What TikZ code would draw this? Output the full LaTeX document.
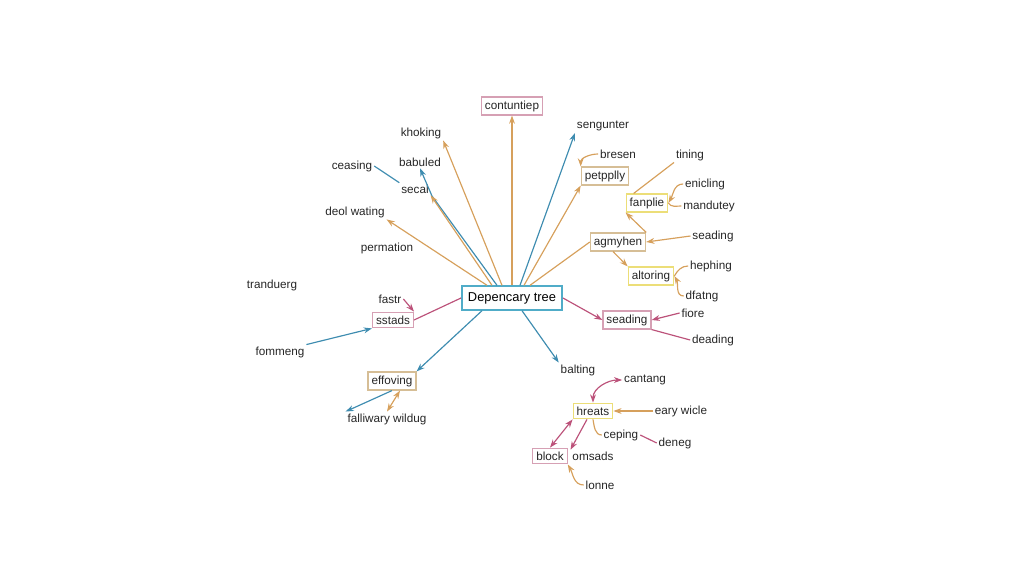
\documentclass[tikz,border=0pt]{standalone}
\usepackage{fontspec}
\setmainfont{Liberation Sans}
\usetikzlibrary{arrows.meta}
\definecolor{org}{RGB}{214,160,92}
\definecolor{blu}{RGB}{62,140,176}
\definecolor{cyn}{RGB}{80,172,200}
\definecolor{pnk}{RGB}{188,82,122}
\definecolor{yel}{RGB}{236,222,120}
\definecolor{tan}{RGB}{214,190,150}
\definecolor{pbx}{RGB}{214,160,180}
\tikzset{
  lbl/.style={font=\fontsize{10}{12}\selectfont, inner sep=1.5pt, text=black!85},
  bx/.style={lbl, draw=#1, line width=1pt, inner sep=3pt, fill=white},
  ar/.style={-{Stealth[length=7pt,width=5pt]}, line width=1pt},
  ln/.style={line width=1pt}
}
\begin{document}
\begin{tikzpicture}[x=0.03cm,y=-0.03cm]
    \useasboundingbox (0,0) rectangle (1024,585);
    \node [draw=cyn, line width=1.8pt, font=\fontsize{11}{13}\selectfont, inner sep=5pt, fill=white] (root) at (512,298) {Depencary tree};
    % upper right
    \node [bx=pbx] (cont) at (512,106) {contuntiep};
    \node [lbl] (seng) at (603,126) {sengunter};
    \node [lbl] (bres) at (618,154) {bresen};
    \node [bx=tan] (petp) at (605,176) {petpplly};
    \node [lbl] (tin) at (690,155) {tining};
    \node [bx=yel] (fanp) at (647,203) {fanplie};
    \node [lbl] (enic) at (705,184) {enicling};
    \node [lbl] (mand) at (709,206) {mandutey};
    \node [bx=tan] (agmy) at (618,242) {agmyhen};
    \node [lbl] (sead) at (713,236) {seading};
    \node [bx=yel] (alto) at (651,276) {altoring};
    \node [lbl] (heph) at (711,266) {hephing};
    \node [lbl] (dfat) at (702,296) {dfatng};
    \node [bx=pbx] (seadb) at (627,320) {seading};
    \node [lbl] (fior) at (693,313) {fiore};
    \node [lbl] (dead) at (713,340) {deading};
    % lower right
    \node [lbl] (balt) at (578,370) {balting};
    \node [lbl] (cant) at (645,380) {cantang};
    \node [bx=yel] (hrea) at (593,411) {hreats};
    \node [lbl] (eary) at (681,411) {eary wicle};
    \node [lbl] (cepi) at (621,435) {ceping};
    \node [lbl] (dene) at (675,443) {deneg};
    \node [bx=pbx] (blck) at (550,456) {block};
    \node [lbl] (omsa) at (593,456) {omsads};
    \node [lbl] (lonn) at (600,485) {lonne};
    % left
    \node [bx=tan] (effo) at (392,381) {effoving};
    \node [lbl] (fall) at (387,419) {falliwary wildug};
    \node [bx=pbx] (sste) at (393,320) {sstads};
    \node [lbl] (fast) at (390,299) {fastr};
    \node [lbl] (fomm) at (280,352) {fommeng};
    \node [lbl] (tran) at (272,285) {tranduerg};
    \node [lbl] (perm) at (387,248) {permation};
    \node [lbl] (deol) at (355,212) {deol wating};
    \node [lbl] (ceas) at (352,166) {ceasing};
    \node [lbl] (seca) at (415,189) {secal};
    \node [lbl] (babu) at (420,162) {babuled};
    \node [lbl] (khok) at (421,133) {khoking};
    % edges from the root
    \draw [ar, org] (root.north) -- (cont);
    \draw [ar, blu] (root.north) ++(8,0) -- (seng.south west);
    \draw [ar, org] (root.north) ++(12,0) -- (petp.south west);
    \draw [ln, org] (root.north) ++(18,0) -- (agmy.west);
    \draw [ar, pnk] (root.east) -- (seadb.west);
    \draw [ar, blu] (root.south) ++(10,0) -- (balt.north west);
    \draw [ar, blu] (root.south) ++(-30,0) -- (effo.north east);
    \draw [ln, pnk] (root.west) -- (sste.east);
    \draw [ar, org] (root.north) ++(-10,0) -- (khok.south east);
    \draw [ar, blu] (root.north) ++(-15,0) -- (432,196) -- (babu.south);
    \draw [ar, org] (root.north) ++(-20,0) -- (seca.south east);
    \draw [ar, org] (root.north) ++(-25,0) -- (deol.south east);
    % other edges
    \draw [ar, org] (bres.west) to[out=180,in=90] (petp.north west);
    \draw [ar, org] (agmy.north east) -- (fanp.south west);
    \draw [ln, org] (fanp.north west) ++(8,0) -- (tin.south west);
    \draw [ar, org] (enic.west) to[out=180,in=60] (fanp.east);
    \draw [ln, org] (mand.west) to[out=180,in=-60] (fanp.east);
    \draw [ar, org] (sead.west) -- (agmy.east);
    \draw [ar, org] (agmy.south) ++(-5,0) -- (alto.north west);
    \draw [ln, org] (heph.west) to[out=180,in=60] (alto.east);
    \draw [ar, org] (dfat.west) to[out=180,in=-60] (alto.east);
    \draw [ar, pnk] (fior.west) -- (seadb.east);
    \draw [ln, pnk] (seadb.south east) -- (dead.west);
    \draw [{Stealth[length=7pt,width=5pt]}-{Stealth[length=7pt,width=5pt]}, ln, pnk] (hrea.north) to[out=90,in=180] (cant.west);
    \draw [ar, org] (eary.west) -- (hrea.east);
    \draw [{Stealth[length=7pt,width=5pt]}-{Stealth[length=7pt,width=5pt]}, ln, pnk] (hrea.south west) -- (blck.north);
    \draw [ar, pnk] (hrea.south) ++(-6,0) -- (omsa.north west);
    \draw [ln, org] (cepi.west) to[out=180,in=-80] (hrea.south);
    \draw [ln, pnk] (cepi.east) -- (dene.west);
    \draw [ar, org] (lonn.west) to[out=180,in=-60] (blck.south east);
    \draw [ar, blu] (effo.south) -- (fall.north west);
    \draw [{Stealth[length=7pt,width=5pt]}-{Stealth[length=7pt,width=5pt]}, ln, org] (effo.south) ++(8,0) -- (fall.north);
    \draw [ar, pnk] (fast.east) -- (sste.north east);
    \draw [ar, blu] (fomm.north east) -- (sste.south west);
    \draw [ln, blu] (ceas.east) -- (seca.north west);
\end{tikzpicture}
\end{document}
